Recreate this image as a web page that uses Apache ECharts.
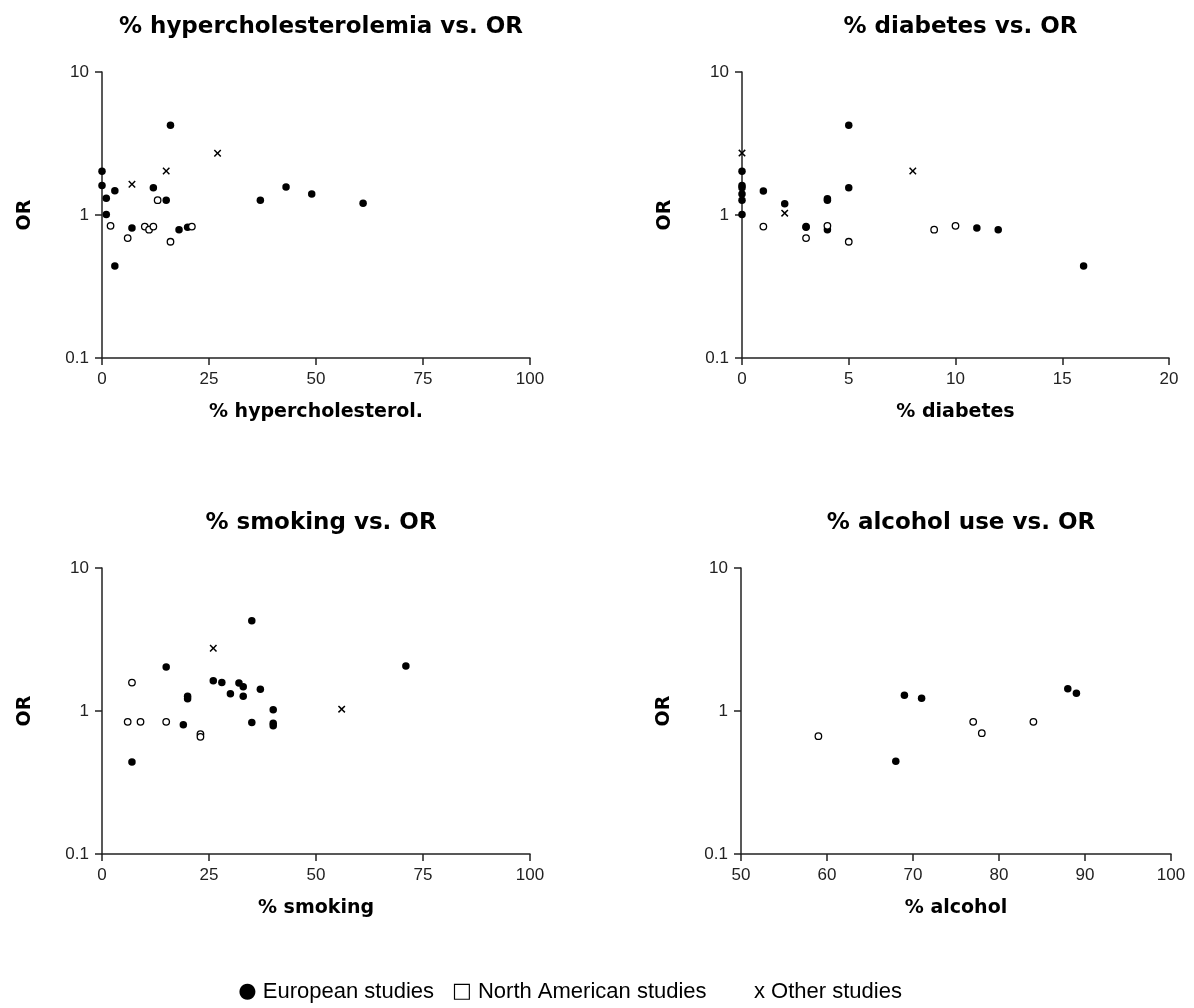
<!DOCTYPE html>
<html>
<head>
<meta charset="utf-8">
<script src="https://cdn.jsdelivr.net/npm/echarts@6/dist/echarts.min.js"></script>
<style>
html,body{margin:0;padding:0;background:#fff;}
#chart{width:1194px;height:1008px;}
</style>
</head>
<body>
<div id="chart"></div>
<script>
// ---- Data: [x %, OR] ----
const hyperEuro = [[0,2.02],[0,1.61],[1,1.31],[1,1.01],[3,1.48],[3,0.44],[7,0.81],[12,1.55],[15,1.27],[16,4.24],[18,0.79],[20,0.82],[37,1.27],[43,1.57],[49,1.40],[61,1.21]];
const hyperNA = [[2,0.84],[6,0.69],[10,0.83],[11,0.79],[12,0.83],[13,1.27],[16,0.65],[21,0.83]];
const hyperOther = [[7,1.64],[15,2.03],[27,2.70]];

const diabEuro = [[0,2.02],[0,1.61],[0,1.55],[0,1.40],[0,1.27],[0,1.01],[1,1.47],[2,1.20],[3,0.83],[3,0.82],[4,1.30],[4,1.27],[4,0.79],[5,4.24],[5,1.55],[11,0.81],[12,0.79],[16,0.44]];
const diabNA = [[1,0.83],[3,0.69],[4,0.84],[5,0.65],[9,0.79],[10,0.84]];
const diabOther = [[0,2.71],[2,1.03],[8,2.03]];

const smokEuro = [[7,0.44],[15,2.03],[19,0.80],[20,1.27],[20,1.22],[26,1.63],[28,1.58],[30,1.32],[32,1.57],[33,1.48],[33,1.27],[35,4.27],[35,0.83],[37,1.42],[40,1.02],[40,0.82],[40,0.79],[71,2.06]];
const smokNA = [[6,0.84],[7,1.58],[9,0.84],[15,0.84],[23,0.69],[23,0.66]];
const smokOther = [[26,2.75],[56,1.03]];

const alcEuro = [[68,0.445],[69,1.29],[71,1.23],[88,1.43],[89,1.33]];
const alcNA = [[59,0.667],[77,0.84],[78,0.70],[84,0.84]];
const alcOther = [];

const panelTitles = ['% hypercholesterolemia vs. OR','% diabetes vs. OR','% smoking vs. OR','% alcohol use vs. OR'];
const xNames = ['% hypercholesterol.','% diabetes','% smoking','% alcohol'];
const xRanges = [[0,100,25],[0,20,5],[0,100,25],[50,100,10]];
const yName = 'OR';
const legendSymbols = ['\u25CF','\u25A1','x'];
const legendLabels = ['European studies','North American studies','Other studies'];

// ---- Layout ----
const grids = [
  {left:102, top:72, width:428, height:286},
  {left:742, top:72, width:427, height:286},
  {left:102, top:568, width:428, height:286},
  {left:741, top:568, width:430, height:286}
];
const FONT = '"Liberation Sans", Arial, sans-serif';
const BFONT = '"DejaVu Sans", "Liberation Sans", Arial, sans-serif';
const axisColor = '#222';

const xAxes = grids.map((g,i)=>({
  type:'value', gridIndex:i, min:xRanges[i][0], max:xRanges[i][1], interval:xRanges[i][2],
  name:xNames[i], nameLocation:'middle', nameGap:45,
  nameTextStyle:{fontFamily:BFONT, fontWeight:'bold', fontSize:19, color:'#000'},
  axisLine:{show:true, onZero:false, lineStyle:{color:axisColor, width:1.5}},
  axisTick:{show:true, inside:false, length:7, lineStyle:{color:axisColor, width:1.5}},
  axisLabel:{fontFamily:FONT, fontSize:17, color:'#222', margin:13},
  splitLine:{show:false}
}));
const yAxes = grids.map((g,i)=>({
  type:'log', logBase:10, gridIndex:i, min:0.1, max:10,
  name:yName, nameLocation:'middle', nameGap:67,
  nameTextStyle:{fontFamily:BFONT, fontWeight:'bold', fontSize:19, color:'#000'},
  axisLine:{show:true, onZero:false, lineStyle:{color:axisColor, width:1.5}},
  axisTick:{show:true, inside:false, length:7, lineStyle:{color:axisColor, width:1.5}},
  axisLabel:{fontFamily:FONT, fontSize:17, color:'#222', margin:13,
    formatter:v=>String(Number(Number(v).toPrecision(2)))},
  splitLine:{show:false}, minorTick:{show:false}
}));

const crossPath = 'path://M0,1.4L1.4,0L5,3.6L8.6,0L10,1.4L6.4,5L10,8.6L8.6,10L5,6.4L1.4,10L0,8.6L3.6,5Z';
const groups = [
  [hyperEuro, hyperNA, hyperOther],
  [diabEuro, diabNA, diabOther],
  [smokEuro, smokNA, smokOther],
  [alcEuro, alcNA, alcOther]
];
const series = [];
groups.forEach((g,i)=>{
  series.push({type:'scatter', name:'European', xAxisIndex:i, yAxisIndex:i, data:g[0], clip:false,
    symbol:'circle', symbolSize:7.5, itemStyle:{color:'#000', opacity:1}, z:2});
  series.push({type:'scatter', name:'North American', xAxisIndex:i, yAxisIndex:i, data:g[1], clip:false,
    symbol:'circle', symbolSize:6.5, itemStyle:{color:'#fff', borderColor:'#000', borderWidth:1.3, opacity:1}, z:3});
  series.push({type:'scatter', name:'Other', xAxisIndex:i, yAxisIndex:i, data:g[2], clip:false,
    symbol:crossPath, symbolSize:7.5, itemStyle:{color:'#000', opacity:1}, z:4});
});

const titles = grids.map((g,i)=>({
  text:panelTitles[i], left:g.left + g.width/2, top: (i<2 ? 11 : 507), textAlign:'center',
  textStyle:{fontFamily:BFONT, fontWeight:'bold', fontSize:23, color:'#000'}
}));

const legendPos = [[434,'right'],[452,'left'],[754,'left']];
const graphic = legendLabels.map((t,i)=>({
  type:'text', x:legendPos[i][0], y:992,
  style:{text:'{s|' + legendSymbols[i] + '} ' + t, fontFamily:FONT, fontSize:22, fill:'#000',
    align:legendPos[i][1], verticalAlign:'middle',
    rich:{s:{fontFamily: i===2 ? FONT : BFONT, fontSize: i===2 ? 22 : 21, fill:'#000'}}}
}));

const chart = echarts.init(document.getElementById('chart'), null, {renderer:'canvas'});
chart.setOption({
  animation:false,
  backgroundColor:'#fff',
  title:titles,
  grid:grids,
  xAxis:xAxes,
  yAxis:yAxes,
  series:series,
  graphic:graphic
});
</script>
</body>
</html>
